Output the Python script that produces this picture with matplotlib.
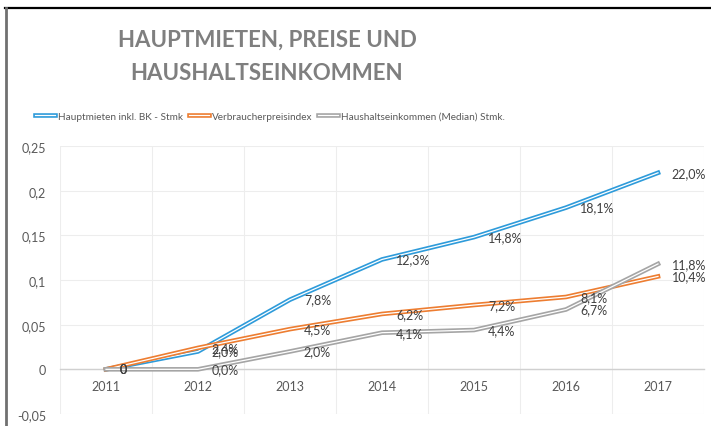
import matplotlib
matplotlib.use("Agg")
import matplotlib.pyplot as plt
import matplotlib.patheffects as pe
from matplotlib.lines import Line2D

years = ["2011", "2012", "2013", "2014", "2015", "2016", "2017"]
mieten = [0.0, 0.020, 0.078, 0.123, 0.148, 0.181, 0.220]
vpi = [0.0, 0.024, 0.045, 0.062, 0.072, 0.081, 0.104]
einkommen = [0.0, 0.0, 0.020, 0.041, 0.044, 0.067, 0.118]
labels_mieten = ["0", "2,0%", "7,8%", "12,3%", "14,8%", "18,1%", "22,0%"]
labels_vpi = ["0", "2,4%", "4,5%", "6,2%", "7,2%", "8,1%", "10,4%"]
labels_eink = ["0", "0,0%", "2,0%", "4,1%", "4,4%", "6,7%", "11,8%"]
series_names = ["Hauptmieten inkl. BK - Stmk", "Verbraucherpreisindex",
                "Haushaltseinkommen (Median) Stmk."]
yticks = [-0.05, 0, 0.05, 0.1, 0.15, 0.2, 0.25]
ytick_labels = ["-0,05", "0", "0,05", "0,1", "0,15", "0,2", "0,25"]

colors = ["#2E9BDA", "#ED7D31", "#A5A5A5"]
FONT = "Lato"
plt.rcParams["font.family"] = [FONT, "DejaVu Sans"]

fig = plt.figure(figsize=(7.11, 4.27), dpi=100)
ax = fig.add_axes([60/711, 1-415/427, (704-60)/711, (415-147)/427])

x = list(range(len(years)))
for vals, labs, c, name in zip([mieten, vpi, einkommen],
                               [labels_mieten, labels_vpi, labels_eink],
                               colors, series_names):
    ax.plot(x, vals, color="white", lw=0.9, label=name, zorder=3,
            solid_joinstyle="round",
            path_effects=[pe.Stroke(linewidth=3.3, foreground=c), pe.Normal()])
    for xi, v, t in zip(x, vals, labs):
        ax.annotate(t, (xi, v), xytext=(10, 0), textcoords="offset points",
                    ha="left", va="center", fontsize=9, color="#404040", zorder=4)

ax.set_xlim(-0.5, 6.5)
ax.set_ylim(-0.05, 0.25)
ax.set_yticks(yticks)
ax.set_yticklabels(ytick_labels)
ax.set_xticks(x)
ax.set_xticklabels(years)
ax.set_xticks([i - 0.5 for i in range(8)], minor=True)
ax.tick_params(axis="both", which="both", length=0, labelsize=9, labelcolor="#595959")
ax.tick_params(axis="y", pad=10)
ax.tick_params(axis="x", pad=8)
ax.spines["bottom"].set_position(("data", 0))
ax.spines["bottom"].set_color("#D0D0D0")
ax.spines["bottom"].set_linewidth(1.0)
for s in ["top", "right", "left"]:
    ax.spines[s].set_visible(False)
ax.grid(True, axis="y", which="major", color="#EDEDED", lw=0.8)
ax.grid(True, axis="x", which="minor", color="#EDEDED", lw=0.8)
ax.grid(False, axis="x", which="major")
ax.set_axisbelow(True)

# outer frame
fig.add_artist(Line2D([5/711, 1], [1-9/427, 1-9/427], transform=fig.transFigure,
                      color="black", lw=1.6))
fig.add_artist(Line2D([6/711, 6/711], [1-9/427, 0], transform=fig.transFigure,
                      color="#707070", lw=2.0))

fig.text(267/711, 1-40/427, "HAUPTMIETEN, PREISE UND", ha="center", va="center",
         fontsize=16, fontweight="bold", color="#7F7F7F")
fig.text(267/711, 1-74/427, "HAUSHALTSEINKOMMEN", ha="center", va="center",
         fontsize=16, fontweight="bold", color="#7F7F7F")

leg = fig.legend(loc="center", bbox_to_anchor=(270/711, 1-117/427), ncol=3,
                 frameon=False, fontsize=7.2, handlelength=2.0, handletextpad=0.3,
                 columnspacing=0.6, labelcolor="#595959")

fig.savefig("out.png", dpi=100)
